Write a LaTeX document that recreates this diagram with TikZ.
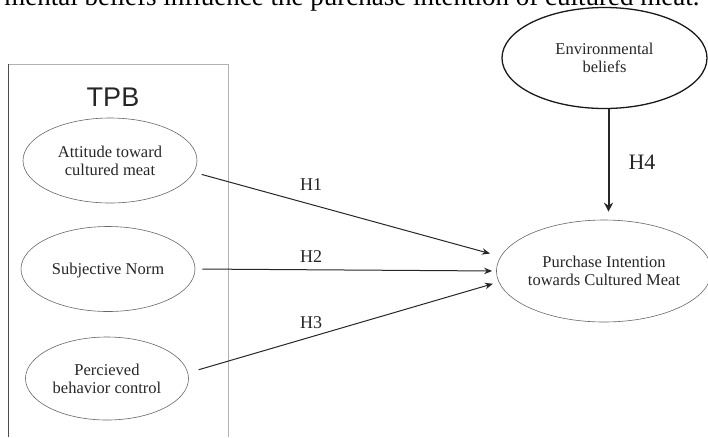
\documentclass[tikz,border=0pt]{standalone}
\usepackage{fontspec}
\setmainfont{Liberation Serif}
\newfontfamily\tpbfont{Liberation Sans}
\usetikzlibrary{shapes.geometric, arrows.meta}

\tikzset{
  oval/.style={ellipse, draw=black!60, line width=0.6pt, inner sep=0pt, align=center,
    font=\fontsize{16.5}{18}\selectfont, text=black!85},
  hyp/.style={line width=1pt, -{Stealth[length=8pt,width=6.5pt]}, black!85},
  hlabel/.style={font=\fontsize{18}{20}\selectfont, text=black!85}
}

\begin{document}
\begin{tikzpicture}[x=1pt,y=-1pt]
   \useasboundingbox (0,0) rectangle (708,437);
   \clip (0,0) rectangle (708,437);

   \node[anchor=base east, font=\fontsize{27}{30}\selectfont] at (703,5) (cap) {mental beliefs influence the purchase intention of cultured meat.};

%TPB frame
   \draw[black!30, line width=0.8pt] (8,64) -- (228,64) -- (228,437);
   \draw[black!70, line width=1pt] (8,437) -- (8,64);
   \node[font=\tpbfont\fontsize{27}{29}\selectfont, text=black!85] at (113,97) (tpb) {TPB};

   \node[oval, minimum width=174pt, minimum height=85pt] at (110,160.5)  (att)    {Attitude toward\\cultured meat};
   \node[oval, minimum width=174pt, minimum height=85pt, text height=15pt] at (108,269)  (sn)    {Subjective Norm};
   \node[oval, minimum width=163pt, minimum height=83pt] at (107,378.5)  (pbc)    {Percieved\\behavior control};

   \node[oval, draw=black!90, line width=1.3pt, minimum width=205pt, minimum height=101pt] at (604.5,58)  (env)    {Environmental\\beliefs};
   \node[oval, minimum width=208pt, minimum height=102pt] at (604,271)  (pi)    {Purchase Intention\\towards Cultured Meat};

   \draw [hyp, shorten <=8pt, shorten >=11pt]  (att.-8)to(pi.172);
   \draw [hyp, shorten <=7pt, shorten >=4pt]  (sn.east)to(pi.west);
   \draw [hyp, shorten <=11pt, shorten >=6pt]  (pbc.4)to(pi.186);
   \draw [hyp, line width=2pt, -{Stealth[length=9pt,width=9pt]}, shorten >=8pt]  ([xshift=4pt]env.south)to([xshift=4pt]env.south |- pi.north);

%Hypothesis labels
   \node[hlabel] at (311,185) (h1) {H1};
   \node[hlabel] at (311,257) (h2) {H2};
   \node[hlabel] at (311,323) (h3) {H3};
   \node[hlabel, font=\fontsize{22}{24}\selectfont] at (642,162) (h4) {H4};

\end{tikzpicture}
\end{document}
